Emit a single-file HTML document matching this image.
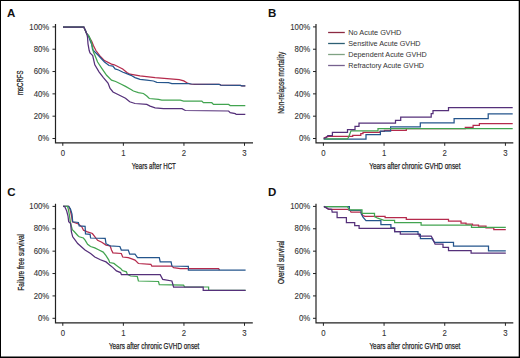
<!DOCTYPE html>
<html><head><meta charset="utf-8"><style>
html,body{margin:0;padding:0;background:#fff;}
body{width:520px;height:358px;overflow:hidden;}
svg{display:block;}
text{font-family:"Liberation Sans",sans-serif;fill:#333;}
.tk{font-size:8.4px;fill:#333;stroke:#333;stroke-width:0.1px;}
.pl{font-size:11.5px;font-weight:bold;fill:#111;}
.tt{font-size:9.8px;fill:#222;stroke:#222;stroke-width:0.25px;}
.lg{font-size:7.3px;fill:#333;}
</style></head><body>
<svg width="520" height="358" viewBox="0 0 520 358">
<rect x="0" y="0" width="520" height="358" fill="#fff"/>
<text x="7" y="16.7" class="pl">A</text>
<text x="268" y="16.8" class="pl">B</text>
<text x="7.3" y="196" class="pl">C</text>
<text x="268" y="196" class="pl">D</text>
<path d="M55.5,24 V142.8 H253" fill="none" stroke="#222" stroke-width="1.2"/>
<path d="M52.5,26.9 H55.5" stroke="#222" stroke-width="1"/>
<text x="49.3" y="29.599999999999998" text-anchor="end" class="tk" textLength="19.94" lengthAdjust="spacingAndGlyphs">100%</text>
<path d="M52.5,49.22 H55.5" stroke="#222" stroke-width="1"/>
<text x="49.3" y="51.92" text-anchor="end" class="tk" textLength="15.61" lengthAdjust="spacingAndGlyphs">80%</text>
<path d="M52.5,71.54 H55.5" stroke="#222" stroke-width="1"/>
<text x="49.3" y="74.24000000000001" text-anchor="end" class="tk" textLength="15.61" lengthAdjust="spacingAndGlyphs">60%</text>
<path d="M52.5,93.86 H55.5" stroke="#222" stroke-width="1"/>
<text x="49.3" y="96.56" text-anchor="end" class="tk" textLength="15.61" lengthAdjust="spacingAndGlyphs">40%</text>
<path d="M52.5,116.18 H55.5" stroke="#222" stroke-width="1"/>
<text x="49.3" y="118.88000000000001" text-anchor="end" class="tk" textLength="15.61" lengthAdjust="spacingAndGlyphs">20%</text>
<path d="M52.5,138.5 H55.5" stroke="#222" stroke-width="1"/>
<text x="49.3" y="141.2" text-anchor="end" class="tk" textLength="11.27" lengthAdjust="spacingAndGlyphs">0%</text>
<path d="M62.8,142.8 V145.8" stroke="#222" stroke-width="1"/>
<text x="62.8" y="155.8" text-anchor="middle" class="tk" textLength="4.34" lengthAdjust="spacingAndGlyphs">0</text>
<path d="M123.37,142.8 V145.8" stroke="#222" stroke-width="1"/>
<text x="123.37" y="155.8" text-anchor="middle" class="tk" textLength="4.34" lengthAdjust="spacingAndGlyphs">1</text>
<path d="M183.94,142.8 V145.8" stroke="#222" stroke-width="1"/>
<text x="183.94" y="155.8" text-anchor="middle" class="tk" textLength="4.34" lengthAdjust="spacingAndGlyphs">2</text>
<path d="M244.51,142.8 V145.8" stroke="#222" stroke-width="1"/>
<text x="244.51" y="155.8" text-anchor="middle" class="tk" textLength="4.34" lengthAdjust="spacingAndGlyphs">3</text>
<path d="M316.0,24 V142.8 H513.3" fill="none" stroke="#222" stroke-width="1.2"/>
<path d="M313.0,26.9 H316.0" stroke="#222" stroke-width="1"/>
<text x="310.2" y="29.599999999999998" text-anchor="end" class="tk" textLength="19.94" lengthAdjust="spacingAndGlyphs">100%</text>
<path d="M313.0,49.22 H316.0" stroke="#222" stroke-width="1"/>
<text x="310.2" y="51.92" text-anchor="end" class="tk" textLength="15.61" lengthAdjust="spacingAndGlyphs">80%</text>
<path d="M313.0,71.54 H316.0" stroke="#222" stroke-width="1"/>
<text x="310.2" y="74.24000000000001" text-anchor="end" class="tk" textLength="15.61" lengthAdjust="spacingAndGlyphs">60%</text>
<path d="M313.0,93.86 H316.0" stroke="#222" stroke-width="1"/>
<text x="310.2" y="96.56" text-anchor="end" class="tk" textLength="15.61" lengthAdjust="spacingAndGlyphs">40%</text>
<path d="M313.0,116.18 H316.0" stroke="#222" stroke-width="1"/>
<text x="310.2" y="118.88000000000001" text-anchor="end" class="tk" textLength="15.61" lengthAdjust="spacingAndGlyphs">20%</text>
<path d="M313.0,138.5 H316.0" stroke="#222" stroke-width="1"/>
<text x="310.2" y="141.2" text-anchor="end" class="tk" textLength="11.27" lengthAdjust="spacingAndGlyphs">0%</text>
<path d="M323.4,142.8 V145.8" stroke="#222" stroke-width="1"/>
<text x="323.4" y="155.8" text-anchor="middle" class="tk" textLength="4.34" lengthAdjust="spacingAndGlyphs">0</text>
<path d="M384.07,142.8 V145.8" stroke="#222" stroke-width="1"/>
<text x="384.07" y="155.8" text-anchor="middle" class="tk" textLength="4.34" lengthAdjust="spacingAndGlyphs">1</text>
<path d="M444.74,142.8 V145.8" stroke="#222" stroke-width="1"/>
<text x="444.74" y="155.8" text-anchor="middle" class="tk" textLength="4.34" lengthAdjust="spacingAndGlyphs">2</text>
<path d="M505.41,142.8 V145.8" stroke="#222" stroke-width="1"/>
<text x="505.41" y="155.8" text-anchor="middle" class="tk" textLength="4.34" lengthAdjust="spacingAndGlyphs">3</text>
<path d="M55.5,203.8 V322.8 H252.8" fill="none" stroke="#222" stroke-width="1.2"/>
<path d="M52.5,206.4 H55.5" stroke="#222" stroke-width="1"/>
<text x="49.3" y="209.1" text-anchor="end" class="tk" textLength="19.94" lengthAdjust="spacingAndGlyphs">100%</text>
<path d="M52.5,228.78 H55.5" stroke="#222" stroke-width="1"/>
<text x="49.3" y="231.48" text-anchor="end" class="tk" textLength="15.61" lengthAdjust="spacingAndGlyphs">80%</text>
<path d="M52.5,251.16 H55.5" stroke="#222" stroke-width="1"/>
<text x="49.3" y="253.85999999999999" text-anchor="end" class="tk" textLength="15.61" lengthAdjust="spacingAndGlyphs">60%</text>
<path d="M52.5,273.54 H55.5" stroke="#222" stroke-width="1"/>
<text x="49.3" y="276.24" text-anchor="end" class="tk" textLength="15.61" lengthAdjust="spacingAndGlyphs">40%</text>
<path d="M52.5,295.92 H55.5" stroke="#222" stroke-width="1"/>
<text x="49.3" y="298.62" text-anchor="end" class="tk" textLength="15.61" lengthAdjust="spacingAndGlyphs">20%</text>
<path d="M52.5,318.3 H55.5" stroke="#222" stroke-width="1"/>
<text x="49.3" y="321.0" text-anchor="end" class="tk" textLength="11.27" lengthAdjust="spacingAndGlyphs">0%</text>
<path d="M62.8,322.8 V325.8" stroke="#222" stroke-width="1"/>
<text x="62.8" y="336" text-anchor="middle" class="tk" textLength="4.34" lengthAdjust="spacingAndGlyphs">0</text>
<path d="M123.37,322.8 V325.8" stroke="#222" stroke-width="1"/>
<text x="123.37" y="336" text-anchor="middle" class="tk" textLength="4.34" lengthAdjust="spacingAndGlyphs">1</text>
<path d="M183.94,322.8 V325.8" stroke="#222" stroke-width="1"/>
<text x="183.94" y="336" text-anchor="middle" class="tk" textLength="4.34" lengthAdjust="spacingAndGlyphs">2</text>
<path d="M244.51,322.8 V325.8" stroke="#222" stroke-width="1"/>
<text x="244.51" y="336" text-anchor="middle" class="tk" textLength="4.34" lengthAdjust="spacingAndGlyphs">3</text>
<path d="M316.0,203.8 V322.8 H513.3" fill="none" stroke="#222" stroke-width="1.2"/>
<path d="M313.0,206.4 H316.0" stroke="#222" stroke-width="1"/>
<text x="310.2" y="209.1" text-anchor="end" class="tk" textLength="19.94" lengthAdjust="spacingAndGlyphs">100%</text>
<path d="M313.0,228.78 H316.0" stroke="#222" stroke-width="1"/>
<text x="310.2" y="231.48" text-anchor="end" class="tk" textLength="15.61" lengthAdjust="spacingAndGlyphs">80%</text>
<path d="M313.0,251.16 H316.0" stroke="#222" stroke-width="1"/>
<text x="310.2" y="253.85999999999999" text-anchor="end" class="tk" textLength="15.61" lengthAdjust="spacingAndGlyphs">60%</text>
<path d="M313.0,273.54 H316.0" stroke="#222" stroke-width="1"/>
<text x="310.2" y="276.24" text-anchor="end" class="tk" textLength="15.61" lengthAdjust="spacingAndGlyphs">40%</text>
<path d="M313.0,295.92 H316.0" stroke="#222" stroke-width="1"/>
<text x="310.2" y="298.62" text-anchor="end" class="tk" textLength="15.61" lengthAdjust="spacingAndGlyphs">20%</text>
<path d="M313.0,318.3 H316.0" stroke="#222" stroke-width="1"/>
<text x="310.2" y="321.0" text-anchor="end" class="tk" textLength="11.27" lengthAdjust="spacingAndGlyphs">0%</text>
<path d="M323.4,322.8 V325.8" stroke="#222" stroke-width="1"/>
<text x="323.4" y="336" text-anchor="middle" class="tk" textLength="4.34" lengthAdjust="spacingAndGlyphs">0</text>
<path d="M384.07,322.8 V325.8" stroke="#222" stroke-width="1"/>
<text x="384.07" y="336" text-anchor="middle" class="tk" textLength="4.34" lengthAdjust="spacingAndGlyphs">1</text>
<path d="M444.74,322.8 V325.8" stroke="#222" stroke-width="1"/>
<text x="444.74" y="336" text-anchor="middle" class="tk" textLength="4.34" lengthAdjust="spacingAndGlyphs">2</text>
<path d="M505.41,322.8 V325.8" stroke="#222" stroke-width="1"/>
<text x="505.41" y="336" text-anchor="middle" class="tk" textLength="4.34" lengthAdjust="spacingAndGlyphs">3</text>
<text transform="translate(23.3,82.7) rotate(-90)" text-anchor="middle" class="tt" textLength="24.6" lengthAdjust="spacingAndGlyphs">msCRFS</text>
<text transform="translate(284,82.75) rotate(-90)" text-anchor="middle" class="tt" textLength="61.9" lengthAdjust="spacingAndGlyphs">Non-relapse mortality</text>
<text transform="translate(23.5,262.3) rotate(-90)" text-anchor="middle" class="tt" textLength="56.7" lengthAdjust="spacingAndGlyphs">Failure free survival</text>
<text transform="translate(284,262.3) rotate(-90)" text-anchor="middle" class="tt" textLength="43.6" lengthAdjust="spacingAndGlyphs">Overall survival</text>
<text x="131.8" y="169.1" class="tt" textLength="44.1" lengthAdjust="spacingAndGlyphs">Years after HCT</text>
<text x="369.2" y="168.9" class="tt" textLength="91.3" lengthAdjust="spacingAndGlyphs">Years after chronic GVHD onset</text>
<text x="108.9" y="348.7" class="tt" textLength="90.5" lengthAdjust="spacingAndGlyphs">Years after chronic GVHD onset</text>
<text x="369.4" y="348.7" class="tt" textLength="91" lengthAdjust="spacingAndGlyphs">Years after chronic GVHD onset</text>
<path d="M63,27 L83.8,27 L85.4,30.4 L86.7,33.7 L89,37 L91.7,41.3 L93.4,45.5 L95.9,50.5 L99.7,55.7 L104.5,60.6 L111.5,64.1 L114.3,64.8 L122.7,69 L126.9,72.5 L130,74.2 L140,75.9 L155.1,77.6 L170.2,78.8 L179.2,79.7 L183.8,80.9 L186.9,82.8 L190,84 L194.6,84.3 L219.2,84.3 L220.8,85.1 L240.3,85.3 L242,85.9 L245.3,85.9" fill="none" stroke="#b52a4c" stroke-width="1.25" stroke-linejoin="miter"/>
<path d="M63,27 L83.8,27 L85.4,30.4 L86.7,33.7 L88.4,35.4 L90,40.4 L91.7,44.6 L92.6,49.7 L98,55 L104.5,62 L109,65.5 L112.9,66.1 L115.1,68.9 L118.5,70 L123,72.3 L125.5,73.2 L131,75.3 L135,77.6 L140,79.3 L146.8,80.1 L153.5,81 L156.8,82.3 L168.5,82.6 L171.9,83.5 L188.5,83.5 L191.5,84 L219.2,84.3 L220.8,85.1 L240.3,85.3 L242,85.9 L245.3,85.9" fill="none" stroke="#24558c" stroke-width="1.25" stroke-linejoin="miter"/>
<path d="M63,27 L83.8,27 L85.4,30.4 L86.7,33.7 L89.2,36.3 L90.9,40.4 L92.6,47.1 L93.4,52 L94.8,55 L97.6,62 L101.8,68.3 L106.6,75.3 L111.5,80.1 L115.7,81.5 L121.3,84.3 L125.5,86.4 L131,89.5 L133.4,91 L138.4,92.7 L143.4,93.5 L146.8,96 L149.3,98.5 L158.5,99.4 L161.8,100.2 L180.3,100.2 L183.6,101 L201.8,101 L203.4,102.7 L211.8,102.7 L213.5,104.4 L228.6,104.4 L230.2,105.5 L245.3,105.5" fill="none" stroke="#42a450" stroke-width="1.25" stroke-linejoin="miter"/>
<path d="M63,27 L83.8,27 L85.4,30.4 L86.7,33.7 L87.5,37.1 L88,43.8 L89.2,50.5 L90,53 L92.7,55.5 L94.8,64.8 L99,71.8 L103.2,77.3 L108,83 L110.1,88.5 L113,92 L118.5,94.8 L125.5,98.3 L129.7,101.8 L135,103.5 L146.8,104.4 L150.1,106.1 L155.1,107.8 L163.5,108.6 L182,108.6 L185.3,110.5 L228.6,111 L230.2,112.7 L235.3,113.6 L236.1,114.4 L245.3,114.4" fill="none" stroke="#55307a" stroke-width="1.25" stroke-linejoin="miter"/>
<path d="M323.7,138.4 L326,137.2 L328.7,136.4 H352.7 V135.3 H360.8 V133.6 H363 V132.4 H380 V131.3 H384.4 V130.3 H406.3 V128.6 H465.3 V127.4 H473.1 V125.4 H479.4 V123.6 H512.7" fill="none" stroke="#b52a4c" stroke-width="1.25" stroke-linejoin="miter"/>
<path d="M323.7,139 H366 V134.7 H380.4 V131.2 H390.6 V126.8 H420.3 V122.8 H454.1 V118.6 H488.2 V113.8 H512.7" fill="none" stroke="#24558c" stroke-width="1.25" stroke-linejoin="miter"/>
<path d="M323.7,138.8 H347.5 L348.7,137 L351,130.8 H378 V128.6 H512.7" fill="none" stroke="#42a450" stroke-width="1.25" stroke-linejoin="miter"/>
<path d="M323.7,138.4 L326.3,137.5 L327.8,135.5 H332.4 V132.3 H347.5 V129.5 H355 V126.3 H359 V123.2 H395.5 V120.4 H400.7 V117 H431.2 V113.6 H433 V110.6 H448.5 V107.6 H512.7" fill="none" stroke="#55307a" stroke-width="1.25" stroke-linejoin="miter"/>
<path d="M63.1,206.3 L68.7,206.3 L70,209 L71.6,216 L72.4,221.8 L78.4,224 L81.8,226.8 L83.5,230.2 L87.4,231.8 L92.4,233.5 L97.6,240.3 L101.8,242.3 L106,245.1 L110.1,245.8 L111.5,250 L112.9,252.8 L121.3,253.5 L122.7,257 L128.3,257.7 L132.5,259.1 L135,260.1 L138.4,263.5 L150.9,264.3 L151.8,266 L171.9,266 L173.6,267.7 L180.3,268.5 L189,268.5 L218.6,268.5 L219.5,270.1" fill="none" stroke="#b52a4c" stroke-width="1.25" stroke-linejoin="miter"/>
<path d="M63.1,206.3 L68.7,206.3 L70.5,209 L72,214 L72.7,221.8 L78.4,222.5 L79.2,225.9 L85.1,226.3 L85.5,233.9 L90.1,234.3 L90.6,238 L105.2,238.3 L106,243.7 L110.1,245.8 L119.9,246.5 L121.3,250 L128.3,250 L129.7,254.2 L135,254.2 L137.5,257.6 L159.3,257.6 L160.2,261.8 L171.1,261.8 L171.9,266 L188.4,266.4 L188.4,270.1 L245.6,270.1" fill="none" stroke="#24558c" stroke-width="1.25" stroke-linejoin="miter"/>
<path d="M63.1,206.3 L67.5,206.3 L68.2,208.7 L69.4,215 L70.4,222.3 L72.3,229.7 L74.4,231.8 L77.7,235.5 L79.2,236.8 L83.4,238 L85.1,240.1 L87.6,244.3 L90.6,246.5 L94.8,247.9 L99,250 L103.2,252.1 L106,255.6 L108.7,259.8 L109.7,262.5 L113.9,263.4 L117.2,265.9 L120.6,268.4 L122.3,270.5 L126.4,271.8 L127.3,274.3 L130.6,276 L137.3,276.5 L138.4,281 L158.5,281.5 L159.3,284.6 L183.6,285.2 L184.5,286.8 L208.6,287 L208.6,290.3 L245.6,290.3" fill="none" stroke="#42a450" stroke-width="1.25" stroke-linejoin="miter"/>
<path d="M63.1,206.3 L64.7,206.6 L66.7,211 L68,216 L68.7,221.8 L70.6,223.5 L71.4,231.8 L72.7,236.8 L75.2,240.1 L77.7,243.5 L85,250 L90.6,253.5 L94.8,257 L100.4,259.8 L106,261.9 L109.7,265 L113,267.6 L116.4,270.9 L120.6,272.6 L121.4,274.7 L160.2,274.7 L162.7,279.4 L171.9,281 L173.6,287 L203.2,287 L203.2,290.3 L245.6,290.3" fill="none" stroke="#55307a" stroke-width="1.25" stroke-linejoin="miter"/>
<path d="M323.9,206.6 L325.9,207.3 L328.8,209.3 H347.4 L350.3,210.8 L351,212.2 H361 L363,215.7 L365,216.4 H385.1 V217.7 H406.3 V219.4 H448.5 V221 H461 V223 H466 V224.2 H472.5 V225 H478.5 V226 H486 V227.8 H493.8 V229.5 H505.8" fill="none" stroke="#b52a4c" stroke-width="1.25" stroke-linejoin="miter"/>
<path d="M323.9,206.6 H349.4 V210.3 H361.1 V213.7 L363,217.1 L366,220.7 H380.9 V224.6 H390.9 V227.8 H394.6 V231.5 H418 V234.4 H420.4 V238.5 H431.8 L432.9,240.1 L434.6,242.4 H453.5 V246 H488.5 V250.8 H505.8" fill="none" stroke="#24558c" stroke-width="1.25" stroke-linejoin="miter"/>
<path d="M323.9,206.6 H347.4 L349.4,209.8 H362 V213.3 H374.5 V216.6 L377.7,218.2 L384,220.3 H394.6 V222.5 H421.1 V225.1 H471.5 V227.3 H505.8" fill="none" stroke="#42a450" stroke-width="1.25" stroke-linejoin="miter"/>
<path d="M323.9,206.4 L327.8,208.8 L331.7,209.3 L332.2,212.2 H337.1 V217.6 H346.4 V222.5 H354.7 V225.6 H359.1 V228.4 H394.6 V231.5 H400.3 V234 H419.2 V236.2 H431.2 L432.9,239 L435.1,244.2 H443 V247.4 H448.5 V250.5 H471.1 V253 H505.8" fill="none" stroke="#55307a" stroke-width="1.25" stroke-linejoin="miter"/>
<path d="M328.1,32.5 H344.8" stroke="#8c2a42" stroke-width="1.3"/>
<text x="348.3" y="35.0" class="lg" textLength="53.1" lengthAdjust="spacingAndGlyphs">No Acute GVHD</text>
<path d="M328.1,43.5 H344.8" stroke="#2d5f74" stroke-width="1.3"/>
<text x="348.3" y="46.0" class="lg" textLength="72.3" lengthAdjust="spacingAndGlyphs">Sensitive Acute GVHD</text>
<path d="M328.1,54.5 H344.8" stroke="#7fa283" stroke-width="1.3"/>
<text x="348.3" y="57.0" class="lg" textLength="78.5" lengthAdjust="spacingAndGlyphs">Dependent Acute GVHD</text>
<path d="M328.1,65.5 H344.8" stroke="#76618e" stroke-width="1.3"/>
<text x="348.3" y="68.0" class="lg" textLength="75.7" lengthAdjust="spacingAndGlyphs">Refractory Acute GVHD</text>
<rect x="0" y="0" width="520" height="1" fill="#000"/><rect x="0" y="0" width="1" height="358" fill="#000"/><rect x="518.7" y="0" width="1.3" height="358" fill="#000"/><rect x="0" y="356.5" width="520" height="1.5" fill="#000"/>
</svg>
</body></html>
